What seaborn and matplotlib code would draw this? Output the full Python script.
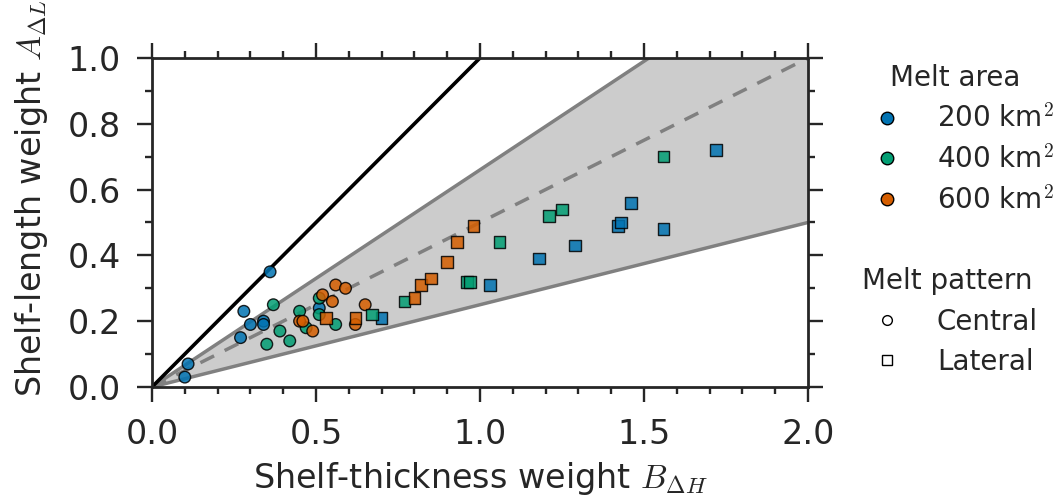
import numpy as np
import pandas as pd
import seaborn as sns
import matplotlib as mpl
import matplotlib.pyplot as plt
from matplotlib.lines import Line2D
from matplotlib.ticker import MultipleLocator

sns.set_style("ticks")
plt.rcParams['font.family'] = ['DejaVu Sans']
plt.rcParams['mathtext.fontset'] = 'cm'
dark = '#262626'

# Central melt pattern (circles)
c200_x = [0.36, 0.28, 0.30, 0.34, 0.34, 0.27, 0.11, 0.10, 0.51]
c200_y = [0.35, 0.23, 0.19, 0.20, 0.19, 0.15, 0.07, 0.03, 0.24]
c400_x = [0.37, 0.35, 0.39, 0.42, 0.45, 0.47, 0.51, 0.51, 0.56]
c400_y = [0.25, 0.13, 0.17, 0.14, 0.23, 0.18, 0.27, 0.22, 0.19]
c600_x = [0.45, 0.46, 0.49, 0.52, 0.55, 0.56, 0.59, 0.62, 0.65]
c600_y = [0.20, 0.20, 0.17, 0.28, 0.26, 0.31, 0.30, 0.19, 0.25]

# Lateral melt pattern (squares)
l200_x = [0.70, 1.03, 1.18, 1.29, 1.42, 1.43, 1.46, 1.56, 1.72]
l200_y = [0.21, 0.31, 0.39, 0.43, 0.49, 0.50, 0.56, 0.48, 0.72]
l400_x = [0.67, 0.77, 0.96, 0.97, 1.06, 1.21, 1.25, 1.56]
l400_y = [0.22, 0.26, 0.32, 0.32, 0.44, 0.52, 0.54, 0.70]
l600_x = [0.53, 0.62, 0.80, 0.82, 0.85, 0.90, 0.93, 0.98]
l600_y = [0.21, 0.21, 0.27, 0.31, 0.33, 0.38, 0.44, 0.49]

areas = ['200 km$^2$', '400 km$^2$', '600 km$^2$']
patterns = ['Central', 'Lateral']
colors = ['#0173b2', '#029e73', '#d55e00']

# bounding lines through the origin: slopes
slope_black = 1.0
slope_upper = 0.66
slope_mid = 0.5
slope_lower = 0.25

groups = [(c200_x, c200_y, 0, 0), (c400_x, c400_y, 1, 0), (c600_x, c600_y, 2, 0),
          (l200_x, l200_y, 0, 1), (l400_x, l400_y, 1, 1), (l600_x, l600_y, 2, 1)]
frames = []
for gx, gy, ia, ip in groups:
    frames.append(pd.DataFrame({'B': gx, 'A': gy, 'area': areas[ia],
                                'pattern': patterns[ip]}))
df = pd.concat(frames, ignore_index=True)

fig = plt.figure(figsize=(10.57, 4.96), dpi=100)
ax = fig.add_axes([0.1438, 0.2198, 0.6206, 0.6633])

xx = np.linspace(0, 2, 401)
ax.fill_between(xx, slope_lower * xx, np.minimum(slope_upper * xx, 1.0),
                color='#cccccc', lw=0, zorder=1)
ax.plot(xx, slope_upper * xx, color='#808080', lw=2.5, zorder=2)
ax.plot(xx, slope_lower * xx, color='#808080', lw=2.5, zorder=2)
ax.plot(xx, slope_mid * xx, color='#808080', lw=2.5, ls=(0, (4.4, 3.4)), zorder=2)
ax.plot(xx, slope_black * xx, color='black', lw=2.6, zorder=2)

sns.scatterplot(data=df, x='B', y='A', hue='area', style='pattern',
                palette=dict(zip(areas, colors)),
                markers={'Central': 'o', 'Lateral': 's'},
                s=70, edgecolor='black', linewidth=1, alpha=0.85,
                legend=False, zorder=3, ax=ax)

ax.set_xlim(0, 2)
ax.set_ylim(0, 1)
ax.xaxis.set_major_locator(MultipleLocator(0.5))
ax.xaxis.set_minor_locator(MultipleLocator(0.1))
ax.yaxis.set_major_locator(MultipleLocator(0.2))
ax.yaxis.set_minor_locator(MultipleLocator(0.1))
ax.tick_params(which='both', direction='out', top=True, right=True,
               colors=dark, width=1.7)
ax.tick_params(which='major', length=10.5, labelsize=24, pad=12)
ax.tick_params(which='minor', length=5.3)
for sp in ax.spines.values():
    sp.set_linewidth(2)
    sp.set_color(dark)

ax.set_xlabel(r'Shelf-thickness weight $B_{\Delta H}$', fontsize=24, color=dark,
              labelpad=6)
ax.set_ylabel(r'Shelf-length weight $A_{\Delta L}$', fontsize=24, color=dark)
ax.yaxis.set_label_coords(-0.155, 0.575)

# legend with section headers
hidden = Line2D([], [], ls='none', marker=None)
handles = [hidden]
labels = ['Melt area']
for a, c in zip(areas, colors):
    handles.append(Line2D([], [], ls='none', marker='o', markersize=9,
                          markerfacecolor=c, markeredgecolor='black', markeredgewidth=1))
    labels.append(a)
handles += [hidden, hidden]
labels += ['', 'Melt pattern']
for p, m in zip(patterns, ['o', 's']):
    handles.append(Line2D([], [], ls='none', marker=m, markersize=7,
                          markerfacecolor='white', markeredgecolor='black', markeredgewidth=1))
    labels.append(p)

leg = ax.legend(handles, labels, loc='upper left', bbox_to_anchor=(0.8155, 0.87),
                bbox_transform=fig.transFigure, frameon=False, fontsize=20,
                borderpad=0, borderaxespad=0, handlelength=1.8, handletextpad=0.9,
                labelspacing=0.44)
for t in leg.get_texts():
    t.set_color(dark)
hpackers = leg.findobj(mpl.offsetbox.VPacker)[0].get_children()
offsets = {'Melt area': 20, 'Melt pattern': 0}
for hp in hpackers:
    da, ta = hp.get_children()
    txt = ta.get_children()[0].get_text()
    if txt in offsets:
        da.set_width(offsets[txt])
        hp.sep = 0

fig.savefig('out.png', dpi=100)
